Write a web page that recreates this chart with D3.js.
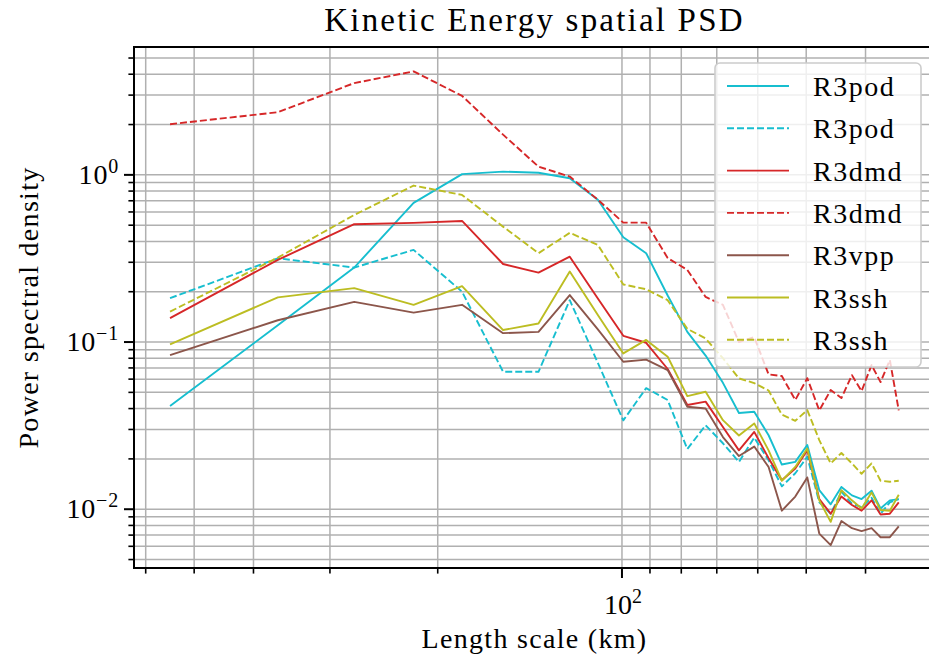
<!DOCTYPE html>
<html>
<head>
<meta charset="utf-8">
<script src="https://cdn.jsdelivr.net/npm/d3@7"></script>
<style>
  body { margin: 0; background: #fff; }
  svg text { font-family: "Liberation Serif", "Times New Roman", serif; fill: #000; }
</style>
</head>
<body>
<div id="chart"></div>
<script>
"use strict";

// length scale (km) of each spectral bin
const lengthKm = [547.5, 365, 273.8, 219, 182.5, 156.4, 136.9, 121.7, 109.5, 99.5,
  91.3, 84.2, 78.2, 73, 68.4, 64.4, 60.8, 57.6, 54.8, 52.1,
  49.8, 47.6, 45.6, 43.8, 42.1, 40.6, 39.1, 37.8, 36.5, 35.3];

const r3pod = [0.0414, 0.126, 0.279, 0.68, 1.01, 1.046, 1.03, 0.955, 0.71, 0.424,
  0.34, 0.19, 0.115, 0.083, 0.057, 0.0376, 0.0383, 0.0277, 0.0185, 0.0192,
  0.0242, 0.013, 0.0107, 0.0136, 0.0121, 0.0115, 0.0129, 0.0101, 0.0113, 0.0115];

const r3podDash = [0.183, 0.317, 0.279, 0.356, 0.2, 0.0664, 0.0664, 0.178, 0.075, 0.034,
  0.053, 0.045, 0.0229, 0.0318, 0.0248, 0.0192, 0.0268, 0.0196, 0.0137, 0.0164,
  0.0206, 0.011, 0.0094, 0.0127, 0.0108, 0.0103, 0.0117, 0.0094, 0.011, 0.0115];

const r3dmd = [0.139, 0.31, 0.507, 0.516, 0.53, 0.293, 0.26, 0.324, 0.182, 0.109,
  0.099, 0.069, 0.042, 0.044, 0.031, 0.0225, 0.029, 0.0202, 0.0149, 0.0175,
  0.0225, 0.0115, 0.0094, 0.0119, 0.0106, 0.0098, 0.0113, 0.0093, 0.0094, 0.011];

const r3dmdDash = [2.01, 2.37, 3.54, 4.16, 2.97, 1.74, 1.12, 0.977, 0.71, 0.518,
  0.518, 0.318, 0.27, 0.186, 0.167, 0.1, 0.107, 0.064, 0.0626, 0.045,
  0.0608, 0.039, 0.0516, 0.0462, 0.0634, 0.0509, 0.0728, 0.0576, 0.078, 0.039];

const r3vpp = [0.0836, 0.135, 0.174, 0.15, 0.167, 0.113, 0.115, 0.191, 0.119, 0.0762,
  0.0785, 0.068, 0.041, 0.04, 0.027, 0.0208, 0.0237, 0.0179, 0.0098, 0.0119,
  0.0155, 0.00715, 0.0061, 0.0085, 0.0077, 0.0074, 0.0077, 0.0068, 0.0068, 0.0079];

const r3ssh = [0.097, 0.185, 0.21, 0.167, 0.216, 0.118, 0.129, 0.264, 0.145, 0.0855,
  0.103, 0.0817, 0.0475, 0.0504, 0.0341, 0.0276, 0.0326, 0.0225, 0.0148, 0.0179,
  0.0231, 0.0113, 0.0084, 0.013, 0.0113, 0.0101, 0.0126, 0.0099, 0.0098, 0.0122];

const r3sshDash = [0.152, 0.32, 0.576, 0.863, 0.759, 0.49, 0.34, 0.45, 0.381, 0.221,
  0.207, 0.178, 0.12, 0.105, 0.08, 0.0606, 0.0568, 0.0513, 0.0368, 0.0338,
  0.0392, 0.0259, 0.0188, 0.0217, 0.0188, 0.0163, 0.0188, 0.0148, 0.0146, 0.0148];

const seriesNames = ["R3pod", "R3pod", "R3dmd", "R3dmd", "R3vpp", "R3ssh", "R3ssh"];
const seriesValues = [r3pod, r3podDash, r3dmd, r3dmdDash, r3vpp, r3ssh, r3sshDash];
const seriesColors = ["#17becf", "#17becf", "#d62728", "#d62728", "#8c564b", "#bcbd22", "#bcbd22"];
const seriesDashed = [false, true, false, true, false, false, true];

const xMajorTicks = [100];
const yMajorTicks = [1, 0.1, 0.01];

const W = 929, H = 664;
const pLeft = 134, pRight = 935, pTop = 47, pBottom = 568;

const svg = d3.select("#chart").append("svg")
  .attr("width", W)
  .attr("height", H);

// inverted log axis: long length scales on the left
const x = d3.scaleLog().domain([627, 30.8]).range([pLeft, pRight]);
const y = d3.scaleLog().domain([0.00445, 5.82]).range([pBottom, pTop]);

const xTicks = x.ticks();
const yTicks = y.ticks();

// grid (major + minor)
const grid = svg.append("g")
  .attr("stroke", "#b0b0b0")
  .attr("stroke-width", 1.5);

grid.selectAll("line.gx")
  .data(xTicks)
  .join("line")
    .attr("class", "gx")
    .attr("x1", d => x(d)).attr("x2", d => x(d))
    .attr("y1", pTop).attr("y2", pBottom);

grid.selectAll("line.gy")
  .data(yTicks)
  .join("line")
    .attr("class", "gy")
    .attr("x1", pLeft).attr("x2", pRight)
    .attr("y1", d => y(d)).attr("y2", d => y(d));

// series lines
const line = d3.line()
  .x((d, i) => x(lengthKm[i]))
  .y(d => y(d));

svg.append("defs").append("clipPath").attr("id", "plotArea")
  .append("rect").attr("x", pLeft).attr("y", pTop)
  .attr("width", pRight - pLeft).attr("height", pBottom - pTop);

svg.append("g")
  .attr("clip-path", "url(#plotArea)")
  .selectAll("path")
  .data(seriesValues)
  .join("path")
    .attr("d", d => line(d))
    .attr("fill", "none")
    .attr("stroke", (d, i) => seriesColors[i])
    .attr("stroke-width", 1.9)
    .attr("stroke-linejoin", "round")
    .attr("stroke-dasharray", (d, i) => seriesDashed[i] ? "7,3" : null);

// spines
svg.append("rect")
  .attr("x", pLeft).attr("y", pTop)
  .attr("width", pRight - pLeft).attr("height", pBottom - pTop)
  .attr("fill", "none")
  .attr("stroke", "#000")
  .attr("stroke-width", 2);

// x ticks
svg.append("g").attr("stroke", "#000")
  .selectAll("line")
  .data(xTicks)
  .join("line")
    .attr("x1", d => x(d)).attr("x2", d => x(d))
    .attr("y1", pBottom)
    .attr("y2", d => xMajorTicks.includes(d) ? pBottom + 10 : pBottom + 5.6)
    .attr("stroke-width", d => xMajorTicks.includes(d) ? 2 : 1.6);

// y ticks
svg.append("g").attr("stroke", "#000")
  .selectAll("line")
  .data(yTicks)
  .join("line")
    .attr("x1", pLeft)
    .attr("x2", d => yMajorTicks.includes(d) ? pLeft - 10 : pLeft - 5.6)
    .attr("y1", d => y(d)).attr("y2", d => y(d))
    .attr("stroke-width", d => yMajorTicks.includes(d) ? 2 : 1.6);

// tick labels as 10^n
function powerLabel(sel, exp) {
  sel.append("tspan").text("10");
  sel.append("tspan")
    .attr("dy", -11)
    .attr("font-size", 20)
    .text(exp < 0 ? "\u2212" + (-exp) : String(exp));
}

xMajorTicks.forEach(v => {
  const t = svg.append("text")
    .attr("x", x(v) + 1)
    .attr("y", 614)
    .attr("text-anchor", "middle")
    .attr("font-size", 28);
  powerLabel(t, Math.round(Math.log10(v)));
});

yMajorTicks.forEach(v => {
  const t = svg.append("text")
    .attr("x", 119)
    .attr("y", y(v) + 9)
    .attr("text-anchor", "end")
    .attr("font-size", 28)
    .attr("letter-spacing", 0.8);
  powerLabel(t, Math.round(Math.log10(v)));
});

// title and axis labels
svg.append("text")
  .attr("x", (pLeft + pRight) / 2)
  .attr("y", 31)
  .attr("text-anchor", "middle")
  .attr("font-size", 33)
  .attr("letter-spacing", 2.2)
  .text("Kinetic Energy spatial PSD");

svg.append("text")
  .attr("x", (pLeft + pRight) / 2)
  .attr("y", 648)
  .attr("text-anchor", "middle")
  .attr("font-size", 28)
  .attr("letter-spacing", 1.3)
  .text("Length scale (km)");

svg.append("text")
  .attr("transform", `translate(38,${(pTop + pBottom) / 2}) rotate(-90)`)
  .attr("text-anchor", "middle")
  .attr("font-size", 28)
  .attr("letter-spacing", 1.3)
  .text("Power spectral density");

// legend
const legend = svg.append("g");
legend.append("rect")
  .attr("x", 715).attr("y", 63)
  .attr("width", 206).attr("height", 304)
  .attr("rx", 5)
  .attr("fill", "#fff")
  .attr("fill-opacity", 0.8)
  .attr("stroke", "#cccccc")
  .attr("stroke-width", 1.6);

const rows = legend.selectAll("g.row")
  .data(seriesNames)
  .join("g")
    .attr("class", "row")
    .attr("transform", (d, i) => `translate(0,${86 + i * 42.3})`);

rows.append("line")
  .attr("x1", 727).attr("x2", 789)
  .attr("stroke", (d, i) => seriesColors[i])
  .attr("stroke-width", 1.9)
  .attr("stroke-dasharray", (d, i) => seriesDashed[i] ? "7,3" : null);

rows.append("text")
  .attr("x", 813)
  .attr("y", 10)
  .attr("font-size", 28)
  .attr("letter-spacing", 1.5)
  .text(d => d);
</script>
</body>
</html>
